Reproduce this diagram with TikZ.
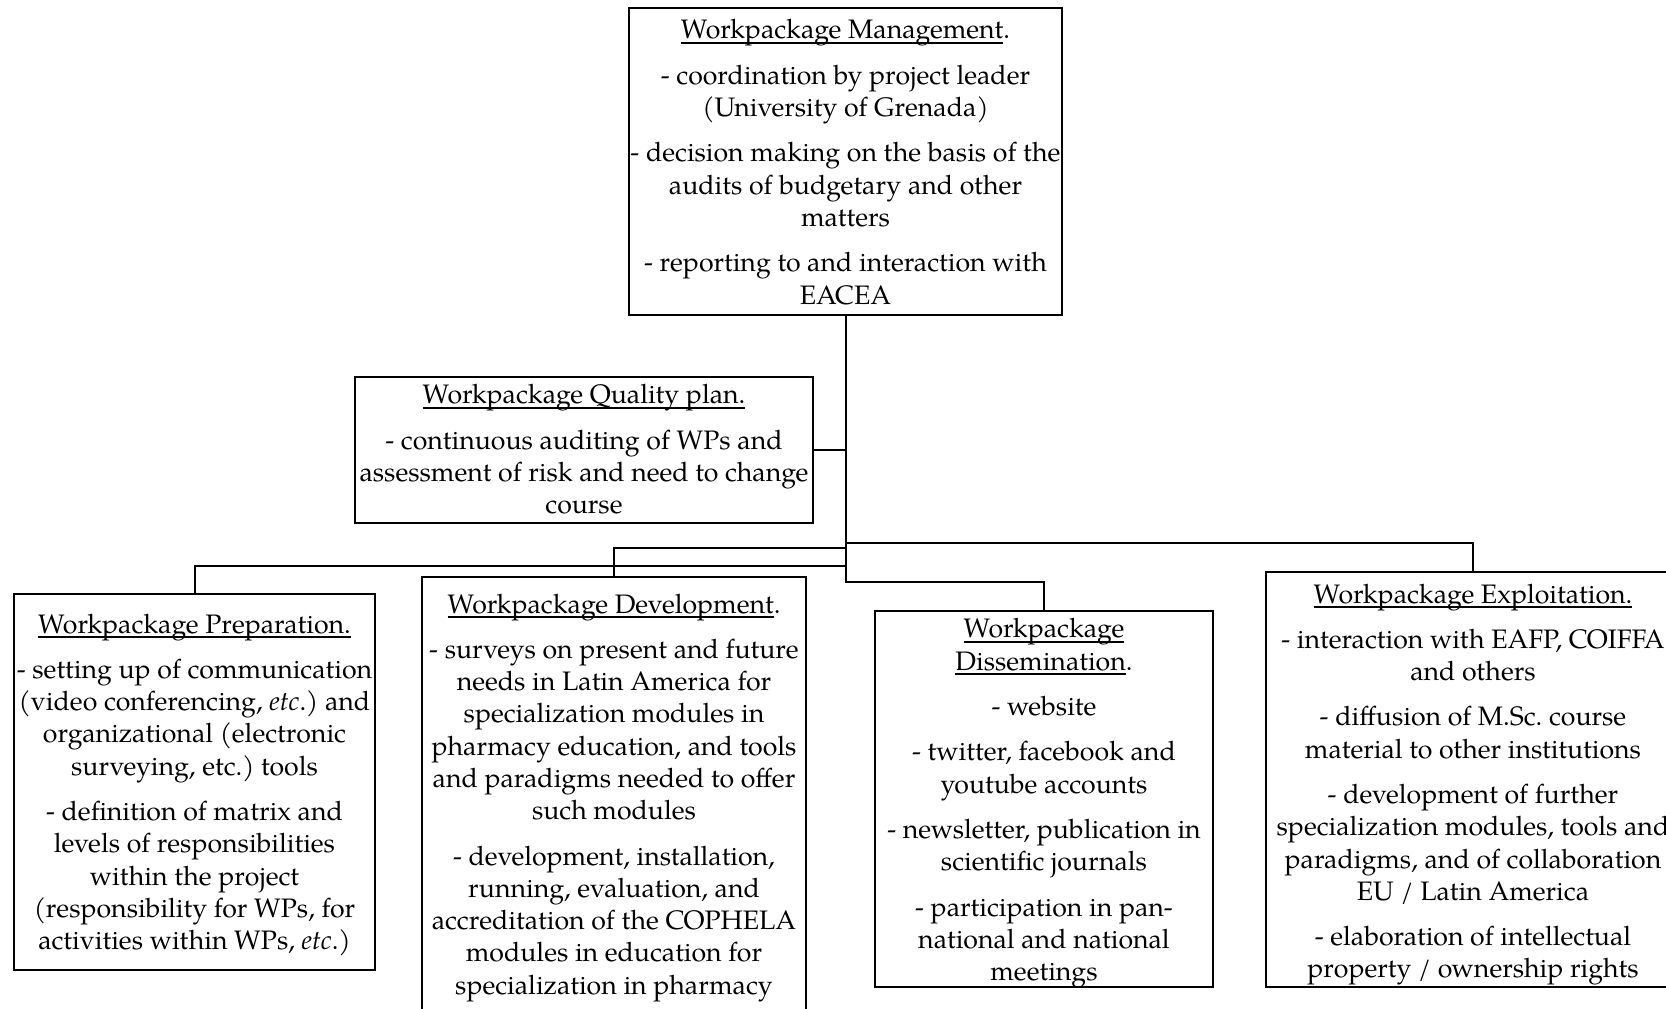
\documentclass[tikz,border=0pt]{standalone}
\usepackage{fontspec}
\setmainfont{TeX Gyre Pagella}
\newsavebox{\ulbox}
\newcommand{\ulx}[1]{\sbox{\ulbox}{#1}\rlap{\rule[-2.4pt]{\wd\ulbox}{0.8pt}}\usebox{\ulbox}}
\frenchspacing
\tikzset{
  box/.style={draw, line width=1pt, inner sep=0pt, outer sep=0pt},
  txt/.style={align=center, inner sep=0pt, outer sep=0pt, anchor=north,
    font=\fontsize{13.35pt}{16.15pt}\selectfont},
  conn/.style={line width=1pt},
}
\newcommand{\pg}{\\[6.5pt]}
\begin{document}
\begin{tikzpicture}[x=0.5pt,y=-0.5pt]
\clip (0,0) rectangle (1666,1008);
\fill[white] (0,0) rectangle (1666,1008);
% boxes
\node[box, minimum width=216.5pt, minimum height=153.5pt] (mgmt) at (845.5,161.5) {};
\node[box, minimum width=229pt, minimum height=73pt] (qual) at (584,450) {};
\node[box, minimum width=180.5pt, minimum height=188pt] (prep) at (194.5,782) {};
\node[box, minimum width=192pt, minimum height=226.5pt] (dev) at (614,803.5) {};
\node[box, minimum width=169pt, minimum height=188pt] (diss) at (1044,799) {};
\node[box, minimum width=207pt, minimum height=207.5pt] (expl) at (1473,779.5) {};
% texts
\node[txt] (tmgmt) at (845.5,19.6) {\ulx{Workpackage Management}.\pg
- coordination by project leader\\
(University of Grenada)\pg
- decision making on the basis of the\\
audits of budgetary and other\\
matters\pg
- reporting to and interaction with\\
EACEA};
\node[txt] (tqual) at (584,384.6) {\ulx{Workpackage Quality plan.}\pg
- continuous auditing of WPs and\\
assessment of risk and need to change\\
course};
\node[txt] (tprep) at (194.5,613.6) {\ulx{Workpackage Preparation.}\pg
- setting up of communication\\
(video conferencing, \textit{etc}.) and\\
organizational (electronic\\
surveying, etc.) tools\pg
- definition of matrix and\\
levels of responsibilities\\
within the project\\
(responsibility for WPs, for\\
activities within WPs, \textit{etc}.)};
\node[txt] (tdev) at (614,593.6) {\ulx{Workpackage Development}.\pg
- surveys on present and future\\
needs in Latin America for\\
specialization modules in\\
pharmacy education, and tools\\
and paradigms needed to offer\\
such modules\pg
- development, installation,\\
running, evaluation, and\\
accreditation of the COPHELA\\
modules in education for\\
specialization in pharmacy};
\node[txt] (tdiss) at (1044,618.6) {\ulx{Workpackage}\\
\ulx{Dissemination}.\pg
- website\pg
- twitter, facebook and\\
youtube accounts\pg
- newsletter, publication in\\
scientific journals\pg
- participation in pan-\\
national and national\\
meetings};
\node[txt] (texpl) at (1473,583.6) {\ulx{Workpackage Exploitation.}\pg
- interaction with EAFP, COIFFA\\
and others\pg
- diffusion of M.Sc. course\\
material to other institutions\pg
- development of further\\
specialization modules, tools and\\
paradigms, and of collaboration\\
EU / Latin America\pg
- elaboration of intellectual\\
property / ownership rights};
% junction levels
\coordinate (ye) at (0,543);
\coordinate (yv) at (0,548);
\coordinate (yp) at (0,566);
\coordinate (yd) at (0,582);
\coordinate (je) at (mgmt.south |- ye);
\coordinate (jv) at (mgmt.south |- yv);
\coordinate (jp) at (mgmt.south |- yp);
\coordinate (jd) at (mgmt.south |- yd);
% connectors
\draw[conn] (mgmt.south) -- (jd) -| (diss.north);
\draw[conn] (qual.east) -- (qual.east -| mgmt.south);
\draw[conn] (je) -| (expl.north);
\draw[conn] (jv) -| (dev.north);
\draw[conn] (jp) -| (prep.north);
\end{tikzpicture}
\end{document}
